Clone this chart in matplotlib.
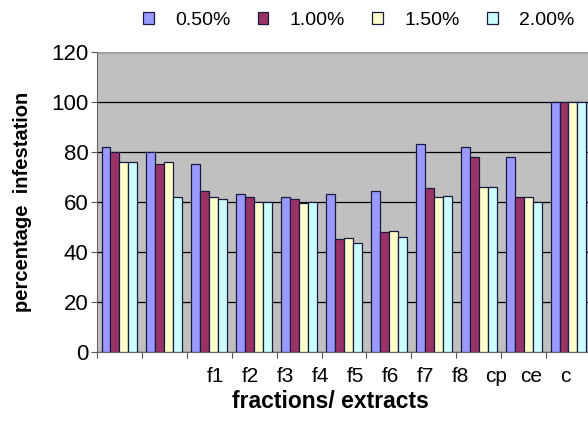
import numpy as np
import matplotlib
matplotlib.use("Agg")
import matplotlib.pyplot as plt

plt.rcParams['font.family'] = ['Liberation Sans', 'DejaVu Sans']

# data
series = ['0.50%', '1.00%', '1.50%', '2.00%']
labels = ['f1', 'f2', 'f3', 'f4', 'f5', 'f6', 'f7', 'f8', 'cp', 'ce', 'c']
v050 = [82, 80, 75, 63, 62, 63, 64.5, 83, 82, 78, 100]
v100 = [80, 75, 64.5, 62, 61, 45, 48, 65.5, 78, 62, 100]
v150 = [76, 76, 62, 60, 59.5, 45.5, 48.5, 62, 66, 62, 100]
v200 = [76, 62, 61, 60, 60, 43.5, 46, 62.5, 66, 60, 100]

colors = ['#9999FF', '#993366', '#FFFFCC', '#CCFFFF']

fig = plt.figure(figsize=(5.88, 4.25), dpi=100)
ax = fig.add_axes([0.165, 0.172, 0.84, 0.706])
ax.set_facecolor('#C0C0C0')

x = np.arange(len(labels))
w = 0.2
for i, (vals, c, s) in enumerate(zip([v050, v100, v150, v200], colors, series)):
    ax.bar(x - 0.3 + i * w, vals, w, color=c, edgecolor='#1a1a40',
           linewidth=0.9, label=s, zorder=3)

ax.set_xlim(-0.5, len(labels) - 0.5)
ax.set_ylim(0, 120)
ax.set_yticks(range(0, 121, 20))
ax.tick_params(axis='y', labelsize=16, length=4, color='#555555', pad=2)
ax.yaxis.grid(True, color='black', linewidth=0.9, zorder=0)
ax.set_axisbelow(True)

# ticks at group boundaries, no labels
ax.set_xticks(np.arange(-0.5, len(labels), 1.0))
ax.set_xticklabels([])
ax.tick_params(axis='x', length=4, color='#555555')

for sp in ['top', 'right']:
    ax.spines[sp].set_visible(False)
ax.spines['left'].set_color('#666666')
ax.spines['bottom'].set_color('#666666')
ax.axhline(120, color='#a0a0a0', linewidth=1.0, zorder=1)

# category labels (shifted relative to the groups as in the original)
lab_pos = 2.13 + 0.781 * np.arange(len(labels))
for p, t in zip(lab_pos, labels):
    ax.text(p, -0.082, t, transform=ax.get_xaxis_transform(),
            ha='center', va='center', fontsize=15)

ax.set_xlabel('fractions/ extracts', fontsize=16.5, fontweight='bold', va='center')
ax.xaxis.set_label_coords(0.472, -0.165)
ax.set_ylabel('percentage  infestation', fontsize=14.5, fontweight='bold', va='center')
ax.yaxis.set_label_coords(-0.15, 0.5)

leg = fig.legend(loc='center left', bbox_to_anchor=(0.243, 0.952), ncol=4,
                 frameon=False, fontsize=14, handlelength=0.55,
                 handleheight=0.55, columnspacing=1.4, handletextpad=1.1,
                 borderpad=0, borderaxespad=0)

fig.savefig('out.png', dpi=100)
